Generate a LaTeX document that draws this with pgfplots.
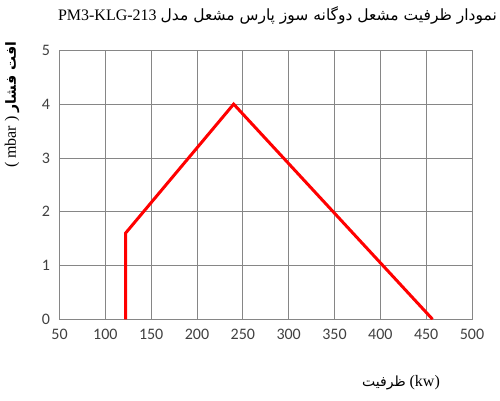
\documentclass[border=0pt]{standalone}
\usepackage{fontspec}
\usepackage{pgfplots}
\pgfplotsset{compat=1.18}
\setmainfont{Liberation Serif}
\newfontfamily\tickfont{Carlito}
\newfontfamily\arabicfont[Script=Arabic]{DejaVu Sans}
\TeXXeTstate=1
\definecolor{gridgray}{RGB}{134,134,134}
\definecolor{ticktext}{RGB}{64,64,64}
\begin{document}
\begin{tikzpicture}
\useasboundingbox (0pt,0pt) rectangle (500pt,400pt);
\begin{axis}[
  at={(59.5pt,80.7pt)}, anchor=south west,
  scale only axis, width=412.5pt, height=269pt,
  xmin=50, xmax=500, ymin=0, ymax=5,
  xtick={50,100,...,500}, ytick={0,1,...,5},
  grid=major, grid style={gridgray, line width=0.8pt},
  axis line style={gridgray, line width=0.8pt},
  tick style={draw=none},
  ticklabel style={font=\tickfont\fontsize{16}{18}\selectfont, text=ticktext},
  /pgf/number format/assume math mode=true,
  xticklabel style={yshift=-6pt},
  yticklabel style={xshift=-6pt},
]
% pressure drop vs capacity envelope
\addplot[red, line width=3pt, line join=miter] coordinates {
  (122,0) (122,1.6) (240,4) (457,0)
};
\end{axis}
% title
\node[anchor=base east, inner sep=0pt] at (497pt,379pt)
  {\fontsize{16}{18}\selectfont PM3-KLG-213 {\arabicfont\fontsize{15.5}{18}\selectfont\beginR نمودار ظرفیت مشعل دوگانه سوز پارس مشعل مدل\endR}};
% x label
\node[inner sep=0pt] at (401pt,17pt)
  {{\arabicfont\fontsize{14}{16}\selectfont\beginR ظرفیت\endR}\fontsize{16}{18}\selectfont{} (kw)};
% y label
\node[inner sep=0pt, rotate=90] at (12pt,295pt)
  {\fontsize{16}{18}\selectfont ( mbar ) {\arabicfont\bfseries\fontsize{14}{16}\selectfont\beginR افت فشار\endR}};
\end{tikzpicture}
\end{document}
